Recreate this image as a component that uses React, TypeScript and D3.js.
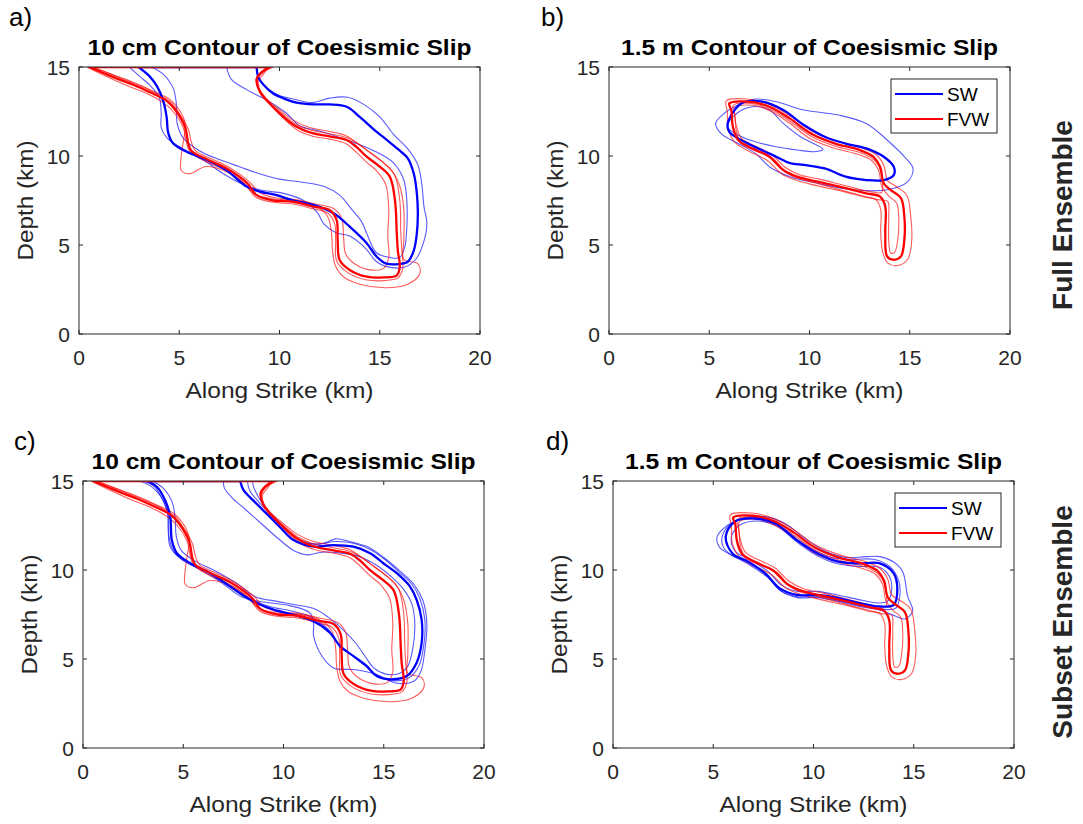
import React from "react";
import * as d3 from "d3";

type Pt = [number, number];

const X_TICKS = [0, 5, 10, 15, 20];
const Y_TICKS = [0, 5, 10, 15];
const SERIES = ["SW", "FVW"];

// panel a) 10 cm contour, full ensemble
const aSwMean: Pt[] = [[2.96,15],[3.5,14.5],[3.9,13.9],[4.2,13.1],[4.37,12.2],[4.45,11.3],[4.7,10.7],[5.37,10.24],[6.37,9.78],[7.36,9.2],[8.36,8.28],[9.03,8.0],[9.86,7.8],[10.7,7.5],[11.7,7.25],[12.7,6.78],[13.5,6.03],[14.35,5.1],[14.85,4.34],[15.3,3.97],[15.95,3.93],[16.4,4.06],[16.7,4.7],[16.85,5.65],[16.9,6.8],[16.85,7.9],[16.7,9.0],[16.4,9.87],[16.0,10.3],[15.35,10.9],[14.7,11.5],[14.0,12.2],[13.35,12.77],[12.5,12.9],[11.7,12.9],[10.85,13.0],[10.2,13.24],[9.7,13.5],[9.2,14.0],[8.95,14.4],[8.86,15]];
const aSwOuter: Pt[] = [[2.5,15],[3.0,14.5],[3.6,13.9],[4.0,13.3],[4.1,12.4],[4.1,11.6],[4.4,11.0],[5.2,10.4],[6.3,9.7],[7.2,9.0],[8.0,8.5],[9.0,8.1],[10.2,7.9],[11.2,7.5],[11.9,6.8],[12.2,6.2],[12.8,5.7],[13.5,5.5],[14.3,4.8],[14.8,4.1],[15.3,3.8],[16.2,3.75],[16.8,4.2],[17.2,5.2],[17.35,6.2],[17.2,7.2],[17.1,8.4],[16.9,9.5],[16.4,10.4],[15.7,11.2],[15.0,12.2],[14.2,12.9],[13.4,13.3],[12.5,13.25],[11.6,13.0],[10.7,13.2],[10.0,13.4],[9.4,13.8],[9.0,14.3],[8.85,15]];
const aSwInner: Pt[] = [[3.6,15],[4.2,14.6],[4.7,13.8],[4.85,13.0],[4.9,11.8],[5.2,11.0],[6.0,10.3],[7.0,9.8],[8.0,9.4],[9.0,9.0],[10.0,8.7],[11.0,8.55],[12.2,8.3],[13.0,7.8],[13.6,7.0],[14.1,6.3],[14.35,5.65],[14.85,4.55],[15.5,4.3],[16.0,4.3],[16.25,4.9],[16.35,6.0],[16.35,7.5],[16.2,8.65],[15.7,9.6],[14.7,10.3],[13.35,10.9],[12.0,11.4],[11.0,11.7],[10.35,12.4],[9.35,13.15],[8.4,13.7],[7.6,14.3],[7.36,15]];
const aFvwMean: Pt[] = [[0.5,15],[1.55,14.5],[2.7,14.0],[3.5,13.6],[4.37,13.1],[4.8,12.6],[5.3,11.6],[5.45,10.7],[5.6,10.3],[6.4,9.8],[7.37,9.3],[8.4,8.46],[8.86,7.8],[9.7,7.5],[10.7,7.43],[11.7,7.15],[12.5,6.97],[12.85,6.4],[12.9,5.3],[13.0,4.16],[13.5,3.6],[14.35,3.22],[15.2,3.18],[15.85,3.3],[16.0,3.78],[15.9,4.7],[15.85,5.65],[15.76,7.5],[15.5,8.84],[15.0,9.4],[14.35,9.96],[13.85,10.5],[13.35,10.9],[12.5,11.1],[11.7,11.27],[10.85,11.65],[10.2,12.2],[9.5,12.96],[9.03,13.6],[8.86,14.3],[9.1,14.7],[9.5,15]];
const aFvwA: Pt[] = [[0.4,15],[1.4,14.45],[2.5,13.9],[3.4,13.5],[4.2,13.0],[4.7,12.5],[5.2,11.6],[5.35,10.8],[5.5,10.3],[6.3,9.7],[7.3,9.2],[8.3,8.4],[8.8,7.7],[9.7,7.4],[10.7,7.3],[11.6,7.05],[12.4,6.8],[12.75,6.2],[12.8,5.3],[12.85,4.1],[13.4,3.45],[14.3,3.05],[15.2,3.0],[15.9,3.15],[16.15,3.7],[16.1,4.7],[16.05,5.7],[16.0,7.5],[15.75,8.9],[15.2,9.6],[14.5,10.2],[13.9,10.7],[13.3,11.05],[12.5,11.25],[11.6,11.45],[10.8,11.8],[10.1,12.4],[9.4,13.1],[8.95,13.8],[8.85,14.4],[9.3,14.8],[9.7,15]];
const aFvwOuter: Pt[] = [[0.6,15],[1.6,14.6],[2.8,14.1],[3.6,13.7],[4.5,13.2],[5.0,12.6],[5.3,11.8],[5.2,10.8],[5.1,10.0],[5.1,9.2],[5.5,9.0],[6.3,9.4],[7.2,9.2],[8.2,8.5],[8.7,7.9],[9.6,7.6],[10.8,7.5],[11.8,7.2],[12.4,6.6],[12.6,5.6],[12.65,4.6],[12.8,3.8],[13.2,3.2],[14.0,2.8],[15.3,2.6],[16.4,2.8],[17.0,3.4],[16.9,3.95],[16.2,4.2],[16.2,5.2],[16.2,7.0],[16.0,8.3],[15.6,9.2],[15.0,9.8],[14.4,10.3],[13.9,10.7],[13.3,11.15],[12.4,11.4],[11.5,11.6],[10.7,12.0],[10.0,12.6],[9.3,13.3],[8.9,14.0],[9.0,14.5],[9.6,15]];
const aFvwInner: Pt[] = [[0.7,15],[1.7,14.55],[2.9,14.0],[3.8,13.55],[4.6,13.0],[5.0,12.4],[5.45,11.5],[5.6,10.8],[5.8,10.3],[6.6,9.85],[7.5,9.35],[8.5,8.55],[9.0,7.95],[9.8,7.65],[10.8,7.55],[11.8,7.3],[12.7,7.05],[13.1,6.5],[13.2,5.4],[13.3,4.5],[13.8,3.9],[14.5,3.6],[15.2,3.7],[15.45,4.3],[15.4,5.5],[15.45,7.0],[15.3,8.4],[14.9,9.1],[14.3,9.7],[13.8,10.25],[13.3,10.7],[12.5,10.95],[11.7,11.1],[10.9,11.45],[10.3,12.0],[9.6,12.8],[9.1,13.5],[8.95,14.2],[9.2,14.6],[9.45,15]];

// panel b) 1.5 m contour, full ensemble
const bSwMean: Pt[] = [[5.92,11.83],[6.6,12.95],[7.65,13.05],[8.69,12.58],[9.72,11.74],[10.76,11.08],[11.8,10.7],[12.83,10.43],[13.7,9.96],[14.2,9.4],[14.2,8.93],[13.7,8.65],[12.83,8.65],[11.8,8.84],[10.76,9.3],[9.72,9.5],[9.03,9.6],[8.34,9.96],[7.3,10.5],[6.44,10.99],[6.0,11.36]];
const bSwOuter: Pt[] = [[5.32,11.83],[5.75,12.4],[6.6,12.95],[7.3,13.2],[8.34,13.05],[9.72,12.58],[11.45,12.3],[12.83,11.83],[13.87,10.9],[14.73,9.96],[15.16,9.3],[14.9,8.56],[13.87,8.1],[12.14,8.1],[10.41,8.47],[9.03,8.84],[8.0,9.4],[7.3,10.15],[6.44,10.7],[5.58,11.27]];
const bSwInner: Pt[] = [[5.92,11.64],[6.27,12.3],[7.13,12.77],[8.0,12.58],[8.69,11.83],[9.55,11.08],[10.67,10.37],[10.24,10.24],[9.38,10.34],[8.34,10.52],[7.3,10.8],[6.44,11.18]];
const bFvwMean: Pt[] = [[6.0,12.95],[6.96,13.05],[8.0,12.77],[9.03,12.1],[10.07,11.27],[11.28,10.7],[12.49,10.34],[13.18,9.96],[13.52,9.4],[13.7,8.47],[14.04,8.1],[14.56,7.63],[14.73,6.6],[14.73,5.29],[14.56,4.36],[14.2,4.17],[13.87,4.36],[13.78,5.66],[13.78,7.16],[13.52,7.72],[12.83,7.9],[11.8,8.19],[10.41,8.56],[9.38,8.84],[8.69,9.21],[8.0,9.96],[7.13,10.43],[6.44,10.9],[6.18,11.64],[6.1,12.58]];
const bFvwOuter: Pt[] = [[5.85,13.1],[6.9,13.2],[8.0,12.9],[9.1,12.2],[10.1,11.4],[11.3,10.85],[12.5,10.5],[13.3,10.1],[13.7,9.5],[13.9,8.6],[14.3,8.3],[14.85,7.8],[15.05,6.6],[15.1,5.3],[14.9,4.2],[14.4,3.85],[13.9,4.0],[13.65,4.6],[13.55,5.7],[13.55,7.0],[13.3,7.55],[12.7,7.7],[11.7,8.0],[10.3,8.35],[9.3,8.65],[8.6,9.0],[7.9,9.75],[7.0,10.25],[6.3,10.75],[5.95,11.5],[5.9,12.5]];
const bFvwShort: Pt[] = [[6.2,12.85],[7.1,12.95],[8.1,12.6],[9.1,11.9],[10.1,11.1],[11.3,10.55],[12.5,10.2],[13.2,9.8],[13.55,9.2],[13.65,8.4],[13.6,7.95],[13.0,8.0],[11.9,8.3],[10.5,8.7],[9.5,8.95],[8.8,9.35],[8.1,10.1],[7.2,10.6],[6.6,11.0],[6.35,11.7],[6.25,12.4]];
const bFvwInner: Pt[] = [[6.3,12.7],[7.2,12.85],[8.1,12.5],[9.0,11.85],[10.0,11.0],[11.2,10.45],[12.4,10.1],[13.1,9.75],[13.45,9.2],[13.6,8.3],[13.95,7.75],[14.35,7.35],[14.45,6.5],[14.4,5.3],[14.25,4.6],[14.05,4.55],[13.95,5.3],[13.95,6.6],[13.9,7.45],[13.4,7.55],[12.7,7.75],[11.7,8.05],[10.4,8.45],[9.4,8.75],[8.8,9.1],[8.2,9.85],[7.3,10.3],[6.6,10.7],[6.35,11.4],[6.3,12.1]];

// panel c) 10 cm contour, subset ensemble
const cSwMean: Pt[] = [[3.19,15],[3.69,14.66],[4.1,13.9],[4.35,13.0],[4.43,11.68],[4.68,10.94],[5.35,10.38],[6.35,9.82],[7.34,9.07],[8.34,8.33],[9.5,7.77],[10.5,7.49],[11.5,7.12],[12.33,6.47],[12.82,5.72],[13.49,5.16],[14.15,4.6],[14.65,4.04],[15.32,3.86],[16.15,4.04],[16.64,4.79],[16.89,5.9],[16.89,7.21],[16.64,8.33],[16.31,9.07],[15.65,9.82],[14.98,10.38],[14.32,10.94],[13.49,11.31],[12.49,11.4],[11.5,11.31],[10.5,11.68],[9.83,12.4],[9.17,13.15],[8.5,13.9],[8.0,14.5],[7.84,15]];
const cSwMid: Pt[] = [[3.0,15],[3.55,14.7],[3.95,14.0],[4.25,13.1],[4.3,11.8],[4.55,11.0],[5.2,10.45],[6.2,9.9],[7.2,9.2],[8.2,8.45],[9.3,7.95],[10.4,7.7],[11.4,7.35],[12.2,6.7],[12.7,5.9],[13.3,5.3],[14.0,4.7],[14.6,4.1],[15.3,3.8],[16.2,3.9],[16.75,4.6],[17.0,5.8],[17.05,7.2],[16.8,8.4],[16.4,9.2],[15.75,9.9],[15.1,10.55],[14.4,11.1],[13.5,11.5],[12.6,11.6],[11.6,11.45],[10.7,11.75],[10.0,12.4],[9.3,13.2],[8.7,13.9],[8.3,14.5],[8.2,15]];
const cSwOuter: Pt[] = [[2.8,15],[3.4,14.7],[3.9,14.1],[4.2,13.3],[4.25,12.2],[4.35,11.3],[4.9,10.6],[5.9,10.0],[6.9,9.3],[7.9,8.5],[9.0,8.2],[10.3,8.0],[11.3,7.6],[11.5,7.0],[11.5,6.3],[11.9,5.2],[12.5,4.5],[13.6,4.4],[14.6,4.15],[15.6,3.65],[16.5,3.75],[16.85,4.3],[17.05,5.5],[17.15,7.0],[16.95,8.3],[16.5,9.2],[15.8,9.95],[15.0,10.7],[14.2,11.3],[13.3,11.6],[12.6,11.75],[12.0,11.5],[11.2,11.5],[10.4,12.0],[9.7,12.8],[9.1,13.5],[8.7,14.2],[8.5,14.7],[8.45,15]];
const cSwInner: Pt[] = [[3.45,15],[4.0,14.6],[4.45,13.8],[4.6,12.9],[4.65,11.9],[4.9,11.1],[5.6,10.5],[6.6,9.95],[7.6,9.3],[8.6,8.5],[9.6,8.25],[10.6,8.05],[11.6,7.8],[12.4,7.2],[13.1,6.5],[13.6,5.9],[14.1,5.1],[14.5,4.5],[15.1,4.15],[15.8,4.2],[16.2,4.6],[16.45,5.6],[16.55,7.0],[16.4,8.1],[16.0,8.9],[15.4,9.6],[14.6,10.3],[13.8,10.75],[12.9,10.95],[11.9,11.0],[11.2,10.85],[10.5,11.1],[9.7,11.8],[8.9,12.6],[8.1,13.4],[7.4,14.1],[7.05,14.6],[7.0,15]];

// panel d) 1.5 m contour, subset ensemble
const dSwMean: Pt[] = [[5.62,11.86],[6.05,12.7],[7.09,12.89],[8.12,12.6],[9.16,11.68],[10.2,10.93],[11.24,10.47],[12.27,10.37],[13.31,10.37],[14.0,9.81],[14.18,8.88],[14.0,8.04],[13.31,7.95],[12.27,8.14],[11.24,8.42],[10.2,8.6],[9.16,8.6],[8.3,8.98],[7.6,9.81],[6.74,10.47],[5.96,10.93]];
const dSwMid: Pt[] = [[5.45,11.9],[5.9,12.6],[6.9,12.95],[7.9,12.75],[8.9,11.95],[9.9,11.2],[10.9,10.7],[12.0,10.6],[13.0,10.6],[13.8,10.2],[14.25,9.4],[14.3,8.5],[14.1,7.85],[13.4,7.8],[12.3,8.0],[11.2,8.3],[10.2,8.5],[9.2,8.5],[8.35,8.85],[7.65,9.7],[6.75,10.4],[5.9,10.85],[5.5,11.3]];
const dSwOuter: Pt[] = [[5.19,11.86],[5.7,12.5],[6.6,12.95],[7.6,13.0],[8.6,12.6],[9.6,11.75],[10.6,11.05],[11.6,10.7],[12.6,10.75],[13.31,10.75],[14.0,10.45],[14.45,9.9],[14.7,8.5],[14.95,7.7],[14.55,7.25],[14.0,7.45],[13.3,7.75],[12.3,7.95],[11.2,8.25],[10.2,8.45],[9.2,8.45],[8.4,8.8],[7.7,9.6],[6.8,10.3],[5.8,10.9],[5.3,11.3]];
const dSwInner: Pt[] = [[5.9,11.8],[6.3,12.5],[7.2,12.75],[8.2,12.45],[9.2,11.55],[10.2,10.8],[11.2,10.35],[12.3,10.2],[13.3,10.15],[13.8,9.6],[13.9,8.9],[13.7,8.25],[13.2,8.15],[12.2,8.35],[11.2,8.6],[10.2,8.8],[9.2,8.8],[8.4,9.15],[7.7,9.95],[6.8,10.6],[6.1,11.05]];

const BLUE = "#0000ff";
const RED = "#ff0000";
const W = 401;
const H = 267;
const FONT = "'Liberation Sans', Arial, Helvetica, sans-serif";

type Curve = { pts: Pt[]; color: string; thick?: boolean };

const x = d3.scaleLinear().domain([0, 20]).range([0, W]);
const y = d3.scaleLinear().domain([0, 15]).range([H, 0]);

const openLine = d3.line<Pt>().x((d) => x(d[0])).y((d) => y(d[1])).curve(d3.curveCatmullRom.alpha(0.5));
const closedLine = d3.line<Pt>().x((d) => x(d[0])).y((d) => y(d[1])).curve(d3.curveCatmullRomClosed.alpha(0.5));

function Panel({ id, left, top, label, labelX, labelY, title, titleLen, curves, open, legend }: {
  id: string; left: number; top: number; label: string; labelX: number; labelY: number;
  title: string; titleLen: number; curves: Curve[]; open: boolean; legend: boolean;
}) {
  const ordered = curves.filter((c) => !c.thick).concat(curves.filter((c) => c.thick));
  return (
    <g fontFamily={FONT}>
      <text x={labelX} y={labelY} fontSize={26} fill="#000">{label}</text>
      <g transform={`translate(${left},${top})`}>
        <defs>
          <clipPath id={`clip-${id}`}>
            <rect x={0} y={0} width={W} height={H} />
          </clipPath>
        </defs>
        <text x={W / 2} y={-12} textAnchor="middle" fontWeight="bold" fontSize={22}
          textLength={titleLen} lengthAdjust="spacingAndGlyphs" fill="#000">{title}</text>
        <g clipPath={`url(#clip-${id})`} fill="none" strokeLinejoin="round">
          {ordered.map((c, i) => (
            <path key={i}
              d={(open ? openLine(c.pts) + "Z" : closedLine(c.pts)) || ""}
              stroke={c.color}
              strokeWidth={c.thick ? 2.3 : 1.1}
              strokeOpacity={c.thick ? 1 : 0.65} />
          ))}
        </g>
        <rect x={0} y={0} width={W} height={H} fill="none" stroke="#262626" strokeWidth={1} />
        {X_TICKS.map((t) => (
          <g key={`x${t}`}>
            <line x1={x(t)} x2={x(t)} y1={H} y2={H - 4} stroke="#262626" />
            <line x1={x(t)} x2={x(t)} y1={0} y2={4} stroke="#262626" />
            <text x={x(t)} y={H + 31} textAnchor="middle" fontSize={21} fill="#262626">{t}</text>
          </g>
        ))}
        {Y_TICKS.map((t) => (
          <g key={`y${t}`}>
            <line x1={0} x2={4} y1={y(t)} y2={y(t)} stroke="#262626" />
            <line x1={W} x2={W - 4} y1={y(t)} y2={y(t)} stroke="#262626" />
            <text x={-9} y={y(t) + 7.5} textAnchor="end" fontSize={21} fill="#262626">{t}</text>
          </g>
        ))}
        <text x={W / 2} y={H + 64} textAnchor="middle" fontSize={22} fill="#262626"
          textLength={188} lengthAdjust="spacingAndGlyphs">Along Strike (km)</text>
        <text transform={`translate(-46,${H / 2}) rotate(-90)`} textAnchor="middle" fontSize={22} fill="#262626"
          textLength={120} lengthAdjust="spacingAndGlyphs">Depth (km)</text>
        {legend && (
          <g transform="translate(282,12)">
            <rect x={0} y={0} width={106} height={54} fill="#fff" stroke="#262626" strokeWidth={1} />
            {SERIES.map((s, i) => (
              <g key={s}>
                <line x1={4} x2={52} y1={15 + i * 25} y2={15 + i * 25} stroke={i === 0 ? BLUE : RED} strokeWidth={2} />
                <text x={56} y={22 + i * 25} fontSize={19} fill="#000">{s}</text>
              </g>
            ))}
          </g>
        )}
      </g>
    </g>
  );
}

export default function App() {
  const fvwA: Curve[] = [
    { pts: aFvwOuter, color: RED }, { pts: aFvwA, color: RED }, { pts: aFvwInner, color: RED },
    { pts: aFvwMean, color: RED, thick: true },
  ];
  const fvwB: Curve[] = [
    { pts: bFvwOuter, color: RED }, { pts: bFvwShort, color: RED }, { pts: bFvwInner, color: RED },
    { pts: bFvwMean, color: RED, thick: true },
  ];
  const panelA: Curve[] = [
    { pts: aSwOuter, color: BLUE }, { pts: aSwInner, color: BLUE }, { pts: aSwMean, color: BLUE, thick: true }, ...fvwA,
  ];
  const panelB: Curve[] = [
    { pts: bSwOuter, color: BLUE }, { pts: bSwInner, color: BLUE }, { pts: bSwMean, color: BLUE, thick: true }, ...fvwB,
  ];
  const panelC: Curve[] = [
    { pts: cSwOuter, color: BLUE }, { pts: cSwMid, color: BLUE }, { pts: cSwInner, color: BLUE },
    { pts: cSwMean, color: BLUE, thick: true }, ...fvwA,
  ];
  const panelD: Curve[] = [
    { pts: dSwOuter, color: BLUE }, { pts: dSwMid, color: BLUE }, { pts: dSwInner, color: BLUE },
    { pts: dSwMean, color: BLUE, thick: true }, ...fvwB,
  ];
  const t10 = "10 cm Contour of Coesismic Slip";
  const t15 = "1.5 m Contour of Coesismic Slip";
  return (
    <svg width={1083} height={824} style={{ position: "absolute", left: 0, top: 0, background: "#fff" }}>
      <rect width={1083} height={824} fill="#fff" />
      <Panel id="a" left={79} top={67} label="a)" labelX={9} labelY={26} title={t10} titleLen={384} curves={panelA} open legend={false} />
      <Panel id="b" left={609} top={67} label="b)" labelX={541} labelY={26} title={t15} titleLen={377} curves={panelB} open={false} legend />
      <Panel id="c" left={83} top={481} label="c)" labelX={14} labelY={450} title={t10} titleLen={384} curves={panelC} open legend={false} />
      <Panel id="d" left={613} top={481} label="d)" labelX={546} labelY={450} title={t15} titleLen={377} curves={panelD} open={false} legend />
      <text transform="translate(1072,215) rotate(-90)" textAnchor="middle" fontWeight="bold" fontSize={28}
        fontFamily={FONT} fill="#262626">Full Ensemble</text>
      <text transform="translate(1072,622) rotate(-90)" textAnchor="middle" fontWeight="bold" fontSize={28}
        fontFamily={FONT} fill="#262626">Subset Ensemble</text>
    </svg>
  );
}
